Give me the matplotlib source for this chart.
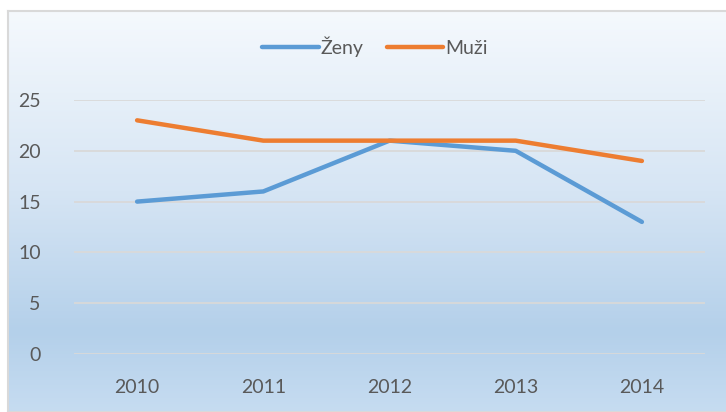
import numpy as np
import matplotlib.pyplot as plt
from matplotlib.colors import LinearSegmentedColormap

# Dane
roky = ["2010", "2011", "2012", "2013", "2014"]
zeny = [15, 16, 21, 20, 13]
muzi = [23, 21, 21, 21, 19]

plt.rcParams['font.family'] = ['Lato', 'DejaVu Sans']

fig = plt.figure(figsize=(7.26, 4.12), dpi=100)

# Pozadí s přechodem (Excel styl)
bg = fig.add_axes([8 / 726, 0, 1, (412 - 11) / 412])
grad = LinearSegmentedColormap.from_list(
    "bg", [(0.0, "#f5f9fd"), (0.45, "#d6e5f4"), (0.8, "#b4d0ea"), (1.0, "#c6dcf1")])
bg.imshow(np.linspace(0, 1, 256).reshape(-1, 1), aspect="auto", cmap=grad,
          extent=[0, 1, 0, 1], origin="upper")
bg.set_xticks([])
bg.set_yticks([])
for s in bg.spines.values():
    s.set_color("#d9d9d9")
    s.set_linewidth(1.5)

ax = fig.add_axes([74 / 726, 1 - 354 / 412, (705 - 74) / 726, (354 - 100) / 412])
ax.set_facecolor("none")
x = np.arange(len(roky))
ax.plot(x, zeny, color="#5b9bd5", lw=3.2, solid_capstyle="round", label="Ženy")
ax.plot(x, muzi, color="#ed7d31", lw=3.2, solid_capstyle="round", label="Muži")

ax.set_xlim(-0.5, 4.5)
ax.set_ylim(0, 25)
ax.set_yticks([0, 5, 10, 15, 20, 25])
ax.set_xticks(x)
ax.set_xticklabels(roky)
ax.grid(axis="y", color="#d9d9d9", lw=1.3)
ax.set_axisbelow(True)
ax.tick_params(length=0, labelsize=14, colors="#595959")
ax.tick_params(axis="x", pad=18)
ax.tick_params(axis="y", pad=24)
for s in ax.spines.values():
    s.set_visible(False)

fig.legend(loc="center", bbox_to_anchor=(375 / 726, 1 - 47 / 412), ncol=2,
           frameon=False, fontsize=14, labelcolor="#595959", handlelength=2.9,
           handletextpad=0.1, columnspacing=1.2)

fig.savefig("out.png", dpi=100)
